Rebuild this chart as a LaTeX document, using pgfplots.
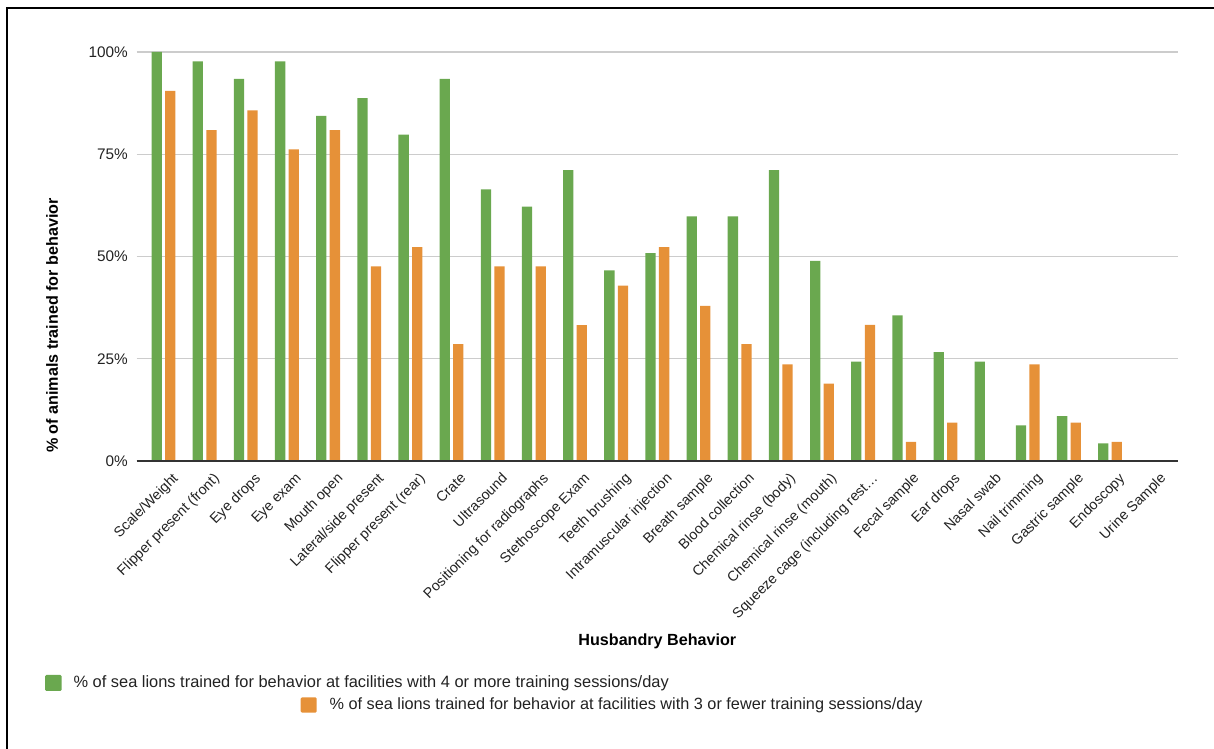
\documentclass[border=0pt]{standalone}
\usepackage{pgfplots}
\pgfplotsset{compat=1.18}
\usepackage{pgfplotstable}
\usepackage{fontspec}
\setmainfont{Liberation Sans}
\definecolor{sgreen}{HTML}{6AA84F}
\definecolor{sorange}{HTML}{E69138}
\definecolor{gridgray}{HTML}{CCCCCC}
\definecolor{axisgray}{HTML}{333333}
\definecolor{txtgray}{HTML}{222222}

\pgfplotstableread{
x green orange
0 100 90.5
1 97.7 80.9
2 93.4 85.7
3 97.7 76.2
4 84.4 80.9
5 88.7 47.6
6 79.8 52.3
7 93.4 28.6
8 66.4 47.6
9 62.2 47.6
10 71.1 33.2
11 46.6 42.9
12 50.8 52.3
13 59.8 37.9
14 59.8 28.6
15 71.1 23.6
16 48.9 18.9
17 24.3 33.3
18 35.6 4.7
19 26.6 9.4
20 24.3 0
21 8.7 23.6
22 11.0 9.4
23 4.3 4.7
24 0 0
}\datatable

\begin{document}
\begin{tikzpicture}
\useasboundingbox (0,0) rectangle (910.5pt,561.75pt);
\begin{axis}[
  at={(102.5pt,216pt)}, anchor=south west,
  scale only axis, width=781pt, height=306.75pt,
  xmin=-0.651, xmax=24.651, ymin=0, ymax=100,
  axis line style={draw=none},
  ybar, bar width=0.25,
  xtick={0,...,24},
  xticklabels={Scale/Weight,Flipper present (front),Eye drops,Eye exam,Mouth open,Lateral/side present,Flipper present (rear),Crate,Ultrasound,Positioning for radiographs,Stethoscope Exam,Teeth brushing,Intramuscular injection,Breath sample,Blood collection,Chemical rinse (body),Chemical rinse (mouth),Squeeze cage (including rest…,Fecal sample,Ear drops,Nasal swab,Nail trimming,Gastric sample,Endoscopy,Urine Sample},
  ytick={0,25,50,75,100},
  yticklabels={0\%,25\%,50\%,75\%,100\%},
  major tick length=0pt,
  tick style={draw=none},
  xtick pos=bottom, ytick pos=left,
  ymajorgrids, grid style={gridgray, line width=0.8pt},
  xticklabel style={font=\fontsize{10.7}{12}\selectfont, text=txtgray, anchor=north east, inner sep=0pt, xshift=6pt, yshift=-8pt, rotate=45},
  yticklabel style={font=\fontsize{11.5}{13}\selectfont, text=txtgray, anchor=east, inner sep=0pt, xshift=-6.5pt},
  xlabel={Husbandry Behavior},
  ylabel={\% of animals trained for behavior},
  every axis x label/.style={at={(axis description cs:0.5,-0.44)}, anchor=center, font=\fontsize{12.1}{14}\selectfont\bfseries},
  every axis y label/.style={at={(axis description cs:-0.0813,0.331)}, rotate=90, anchor=center, font=\fontsize{12.1}{14}\selectfont\bfseries},
  clip=false,
]
\addplot[fill=sgreen, draw=none, bar shift=-0.165] table[x=x, y=green] {\datatable};
\addplot[fill=sorange, draw=none, bar shift=0.165] table[x=x, y=orange] {\datatable};
\draw[axisgray, line width=1pt] (rel axis cs:0,0) -- (rel axis cs:1,0);
\end{axis}
% frame (left and top only, as cropped)
\draw[black, line width=1.7pt] (5.2pt,0) -- (5.2pt,556pt) -- (910.5pt,556pt);
% legend
\fill[sgreen, rounded corners=1pt] (33.75pt,43.5pt) rectangle (46.3pt,55.5pt);
\node[anchor=west, inner sep=0pt, text=txtgray, font=\fontsize{12.3}{14}\selectfont] at (55pt,49.5pt) {\% of sea lions trained for behavior at facilities with 4 or more training sessions/day};
\fill[sorange, rounded corners=1pt] (225.5pt,27.2pt) rectangle (237.5pt,38.8pt);
\node[anchor=west, inner sep=0pt, text=txtgray, font=\fontsize{12.2}{14}\selectfont] at (247pt,33pt) {\% of sea lions trained for behavior at facilities with 3 or fewer training sessions/day};
\end{tikzpicture}
\end{document}
